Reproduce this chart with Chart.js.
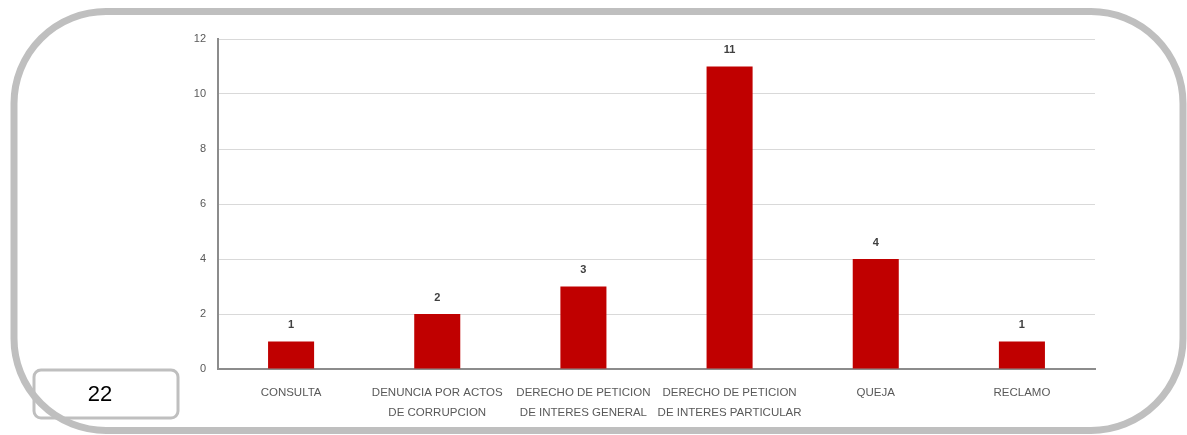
<!DOCTYPE html>
<html><head><meta charset="utf-8">
<script src="https://cdn.jsdelivr.net/npm/chart.js@4.4.0/dist/chart.umd.min.js"></script>
<style>html,body{margin:0;padding:0;background:#fff;}#wrap{width:1187px;height:435px;position:relative;}</style>
</head><body><div id="wrap"><canvas id="c" width="1187" height="435"></canvas></div>
<script>
const categories = [["CONSULTA"],["DENUNCIA POR ACTOS","DE CORRUPCION"],["DERECHO DE PETICION","DE INTERES GENERAL"],["DERECHO DE PETICION","DE INTERES PARTICULAR"],["QUEJA"],["RECLAMO"]];
const values = [1,2,3,11,4,1];
const yTicks = [0,2,4,6,8,10,12];
const pageNumber = "22";
const FONT = "'Liberation Sans','DejaVu Sans',sans-serif";

const decor = {
  id:'decor',
  beforeDraw(chart){
    const ctx = chart.ctx;
    ctx.save();
    ctx.fillStyle='#fff';ctx.fillRect(0,0,chart.width,chart.height);
    ctx.strokeStyle='#BFBFBF';ctx.lineWidth=7;
    ctx.beginPath();ctx.roundRect(14,11.5,1169,419,92);ctx.stroke();
    ctx.restore();
  },
  afterDraw(chart){
    const ctx = chart.ctx;
    ctx.save();
    ctx.strokeStyle='#BFBFBF';ctx.lineWidth=3;
    ctx.beginPath();ctx.roundRect(34,370,144,48,7);ctx.stroke();
    ctx.fillStyle='#000';ctx.font="22px 'Liberation Sans','DejaVu Sans',sans-serif";
    ctx.textAlign='center';ctx.textBaseline='middle';
    ctx.fillText(pageNumber,100,395);
    // data labels
    const meta = chart.getDatasetMeta(0);
    ctx.fillStyle='#404040';ctx.font="bold 11px "+FONT;ctx.textBaseline='bottom';
    meta.data.forEach((bar,i)=>{ctx.fillText(String(values[i]),bar.x,bar.y-11);});
    ctx.restore();
  }
};

new Chart(document.getElementById('c'),{
  type:'bar',
  data:{labels:categories,datasets:[{data:values,backgroundColor:'#C00000',barPercentage:0.63,categoryPercentage:0.5}]},
  options:{
    responsive:false,animation:false,
    layout:{padding:{left:150,right:92,top:39,bottom:0}},
    plugins:{legend:{display:false},tooltip:{enabled:false}},
    scales:{
      x:{grid:{display:false},border:{color:'#8C8C8C',width:2},
        ticks:{color:'#595959',font:{family:FONT,size:11.5,lineHeight:1.75},padding:6,maxRotation:0,autoSkip:false},
        afterFit(s){s.height=66;}},
      y:{min:0,max:12,afterBuildTicks(s){s.ticks=yTicks.map(v=>({value:v}));},
        grid:{color:'#D9D9D9',drawTicks:false},border:{color:'#8C8C8C',width:2},
        ticks:{color:'#595959',font:{family:FONT,size:11},padding:12},
        afterFit(s){s.width=68;}}
    }
  },
  plugins:[decor]
});
</script></body></html>
